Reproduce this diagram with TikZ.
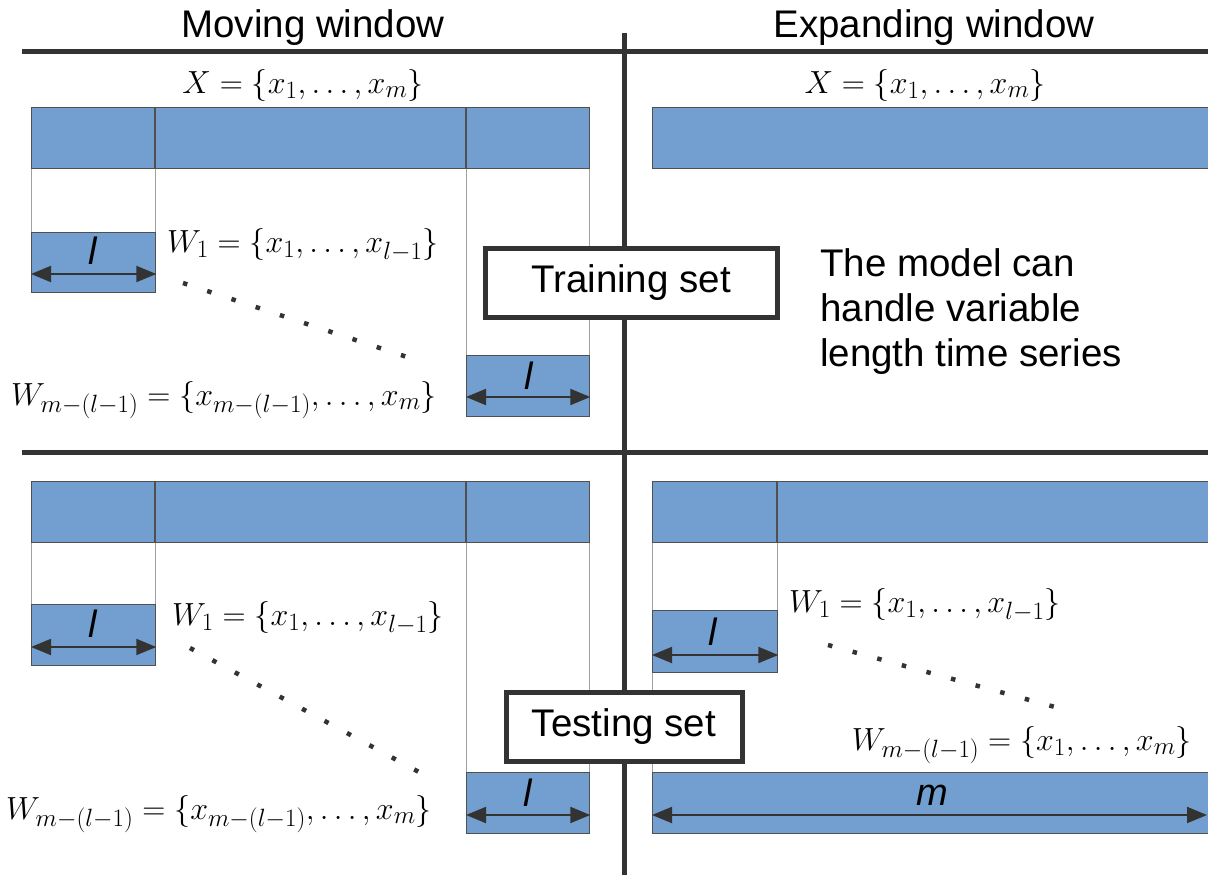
\RequirePackage{fix-cm}
\documentclass[tikz,border=0pt]{standalone}
\usepackage{fontspec}
\newfontfamily\lsans{Liberation Sans}
\usetikzlibrary{arrows.meta}
\DeclareMathSizes{32}{32}{25}{19}
\definecolor{barblue}{HTML}{729FCF}
\definecolor{dk}{HTML}{333333}
\definecolor{edgec}{HTML}{505050}
\definecolor{thinc}{HTML}{A0A0A0}
\tikzset{
  sepline/.style={draw=dk, line width=5pt},
  barn/.style={rectangle, draw=edgec, fill=barblue, line width=1.3pt, anchor=north west, inner sep=0pt},
  divider/.style={draw=edgec, line width=1.6pt},
  guide/.style={draw=thinc, line width=1pt},
  lenarrow/.style={{Triangle[length=20pt,width=16pt]}-{Triangle[length=20pt,width=16pt]}, line width=2pt, draw=dk, fill=dk},
  lenlbl/.style={font=\lsans\itshape\fontsize{38}{40}\selectfont, text=black, inner sep=0pt},
  title/.style={font=\lsans\fontsize{38.5}{45}\selectfont, text=black, inner sep=0pt},
  mathlbl/.style={font=\fontsize{32}{38}\selectfont, text=black, inner sep=0pt},
  setbox/.style={rectangle, draw=dk, line width=5pt, fill=white, font=\lsans\fontsize{38.5}{44}\selectfont, inner sep=0pt},
  dotline/.style={draw=dk, line width=4.5pt, dash pattern=on 4.5pt off 21pt},
}
\begin{document}
\begin{tikzpicture}[x=1pt,y=-1pt]
\useasboundingbox[fill=white] (0,0) rectangle (1208,875);

% ---------- titles ----------
\node[title, anchor=base] (tmove) at (313,38) {Moving window};
\node[title, anchor=base] (texp) at (934,38) {Expanding window};

% ================= TOP LEFT (training, moving) =================
\node[mathlbl] (tlX) at (303,85) {$X=\{x_1,\ldots,x_m\}$};
\draw[guide] (31,168) -- (31,232);
\draw[guide] (155,168) -- (155,232);
\draw[guide] (466,168) -- (466,355);
\draw[guide] (589,168) -- (589,355);
\node[barn, minimum width=558pt, minimum height=61pt] (tlbar) at (31,107) {};
\draw[divider] (155,107) -- (155,168);
\draw[divider] (466,107) -- (466,168);
\node[barn, minimum width=124pt, minimum height=60pt] (tlw1) at (31,232) {};
\node[lenlbl] (tlw1l) at (93,251) {l};
\draw[lenarrow] ([yshift=-42pt]tlw1.north west) -- ([yshift=-42pt]tlw1.north east);
\node[mathlbl, anchor=west] (tlw1t) at (167,245) {$W_1=\{x_1,\ldots,x_{l-1}\}$};
\coordinate (tld1) at (183,283);
\coordinate (tld2) at (410,358);
\draw[dotline] (tld1) -- (tld2);
\node[barn, minimum width=123pt, minimum height=61pt] (tlwm) at (466,355) {};
\node[lenlbl] (tlwml) at (529,376) {l};
\draw[lenarrow] ([yshift=-42pt]tlwm.north west) -- ([yshift=-42pt]tlwm.north east);
\node[mathlbl, anchor=east] (tlwmt) at (437,400) {$W_{m-(l-1)}=\{x_{m-(l-1)},\ldots,x_m\}$};

% ================= TOP RIGHT (training, expanding) =================
\node[mathlbl] (trX) at (925,85) {$X=\{x_1,\ldots,x_m\}$};
\node[barn, minimum width=560pt, minimum height=61pt] (trbar) at (652,107) {};
\node[title, anchor=north west, align=left] (trtext) at (820,248) {The model can\\handle variable\\length time series};

% ================= BOTTOM LEFT (testing, moving) =================
\draw[guide] (31,542) -- (31,604);
\draw[guide] (155,542) -- (155,604);
\draw[guide] (466,542) -- (466,772);
\draw[guide] (589,542) -- (589,772);
\node[barn, minimum width=558pt, minimum height=61pt] (blbar) at (31,481) {};
\draw[divider] (155,481) -- (155,542);
\draw[divider] (466,481) -- (466,542);
\node[barn, minimum width=124pt, minimum height=61pt] (blw1) at (31,604) {};
\node[lenlbl] (blw1l) at (93,624) {l};
\draw[lenarrow] ([yshift=-43pt]blw1.north west) -- ([yshift=-43pt]blw1.north east);
\node[mathlbl, anchor=west] (blw1t) at (172,618) {$W_1=\{x_1,\ldots,x_{l-1}\}$};
\coordinate (bld1) at (190,648);
\coordinate (bld2) at (430,778);
\draw[dotline] (bld1) -- (bld2);
\node[barn, minimum width=123pt, minimum height=61pt] (blwm) at (466,772) {};
\node[lenlbl] (blwml) at (528,793) {l};
\draw[lenarrow] ([yshift=-43pt]blwm.north west) -- ([yshift=-43pt]blwm.north east);
\node[mathlbl, anchor=east] (blwmt) at (432,814) {$W_{m-(l-1)}=\{x_{m-(l-1)},\ldots,x_m\}$};

% ================= BOTTOM RIGHT (testing, expanding) =================
\draw[guide] (652,542) -- (652,772);
\draw[guide] (777,542) -- (777,610);
\node[barn, minimum width=560pt, minimum height=61pt] (brbar) at (652,481) {};
\draw[divider] (777,481) -- (777,542);
\node[barn, minimum width=125pt, minimum height=62pt] (brw1) at (652,610) {};
\node[lenlbl] (brw1l) at (713,632) {l};
\draw[lenarrow] ([yshift=-45pt]brw1.north west) -- ([yshift=-45pt]brw1.north east);
\node[mathlbl, anchor=west] (brw1t) at (789,605) {$W_1=\{x_1,\ldots,x_{l-1}\}$};
\coordinate (brd1) at (828,645);
\coordinate (brd2) at (1066,710);
\draw[dotline] (brd1) -- (brd2);
\node[mathlbl, anchor=east] (brwmt) at (1192,745) {$W_{m-(l-1)}=\{x_1,\ldots,x_m\}$};
\node[barn, minimum width=560pt, minimum height=61pt] (brwm) at (652,772) {};
\node[lenlbl] (brwml) at (932,795) {m};
\coordinate (brmr) at (1207,815);
\draw[lenarrow] ([yshift=-43pt]brwm.north west) -- (brmr);

% ---------- separators ----------
\draw[sepline] (22,52) -- (1212,52);
\draw[sepline] (22,452) -- (1212,452);
\draw[sepline] (624,33) -- (624,880);

% ---------- set boxes ----------
\node[setbox, minimum width=292pt, minimum height=69pt] (train) at (631,283) {Training set};
\node[setbox, minimum width=236pt, minimum height=69pt] (test) at (624,727) {Testing set};
\end{tikzpicture}
\end{document}
